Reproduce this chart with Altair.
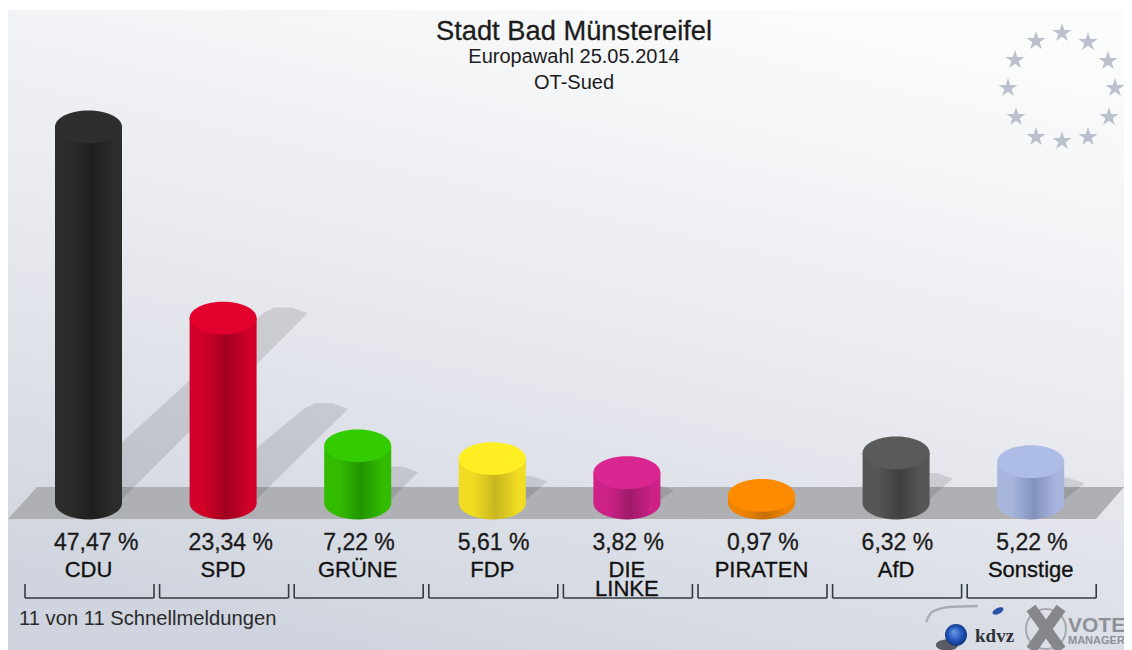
import altair as alt
import pandas as pd

# ---- values ----
parties = ["CDU", "SPD", "GRÜNE", "FDP", "DIE\nLINKE", "PIRATEN", "AfD", "Sonstige"]
shares = [47.47, 23.34, 7.22, 5.61, 3.82, 0.97, 6.32, 5.22]
share_labels = ["47,47 %", "23,34 %", "7,22 %", "5,61 %", "3,82 %", "0,97 %", "6,32 %", "5,22 %"]
cap_colors = ["#2e2e2e", "#e2002c", "#33cc00", "#ffee22", "#d92690", "#ff8c00", "#5a5a5a", "#aebde6"]
edge_colors = ["#2c2c2c", "#d00028", "#33bb00", "#f0dc22", "#cc2288", "#f08400", "#565656", "#a8b6de"]
mid_colors = ["#1f1f1f", "#a00020", "#229500", "#c8b51e", "#a01a6a", "#c87000", "#404040", "#8292ba"]
# cast shadows: height in share units above the floor, reach in slots from the bar's centre
shadow_height = [24.7, 12.6, 4.6, 3.4, 2.3, 0.8, 3.8, 3.2]
shadow_reach = [1.63, 0.93, 0.45, 0.41, 0.35, 0.25, 0.42, 0.40]

FONT = "Liberation Sans"
W, H = 1116, 642


def sx(px):
    return (px - 88.5) / 134.6


def vy(py):
    return (503 - py) / 7.92


def linear(x1, y1, x2, y2, stops):
    return alt.LinearGradient(gradient="linear", x1=x1, y1=y1, x2=x2, y2=y2,
                              stops=[alt.GradientStop(offset=o, color=c) for o, c in stops])


xs = alt.Scale(domain=[sx(8), sx(8 + W)], range=[0, W], nice=False, zero=False, padding=0)
ys = alt.Scale(domain=[vy(8 + H), vy(8)], range=[H, 0], nice=False, zero=False, padding=0)
X = alt.X("slot:Q", scale=xs, axis=None)
Y = alt.Y("v:Q", scale=ys, axis=None)

slots = list(range(len(parties)))
base = pd.DataFrame({"slot": slots, "v": shares, "zero": [0] * 8, "party": parties, "label": share_labels})

# background
bg = alt.Chart(pd.DataFrame({"a": [0]})).mark_rect(
    fill=linear(0.7, 0, 0.3, 1, [(0, "#fafbfb"), (0.5, "#e8eaef"), (1, "#cfd4de")])
).encode(x=alt.value(0), x2=alt.value(W), y=alt.value(2), y2=alt.value(H))

# floor
floor_df = pd.DataFrame({"v": [vy(519), vy(487)], "slot": [sx(8), sx(37)], "b": [sx(1096), sx(1124)]})
floor = alt.Chart(floor_df).mark_area(orient="horizontal", color="#aeb0b3", opacity=1, clip=False).encode(
    y=Y, x=alt.X("slot:Q", scale=xs, axis=None), x2="b:Q"
)

# shadows
rows = []
for i, (h, r) in enumerate(zip(shadow_height, shadow_reach)):
    rows += [
        dict(g=i, v=0, slot=i - 0.245, b=i + 0.22),
        dict(g=i, v=h - 0.7, slot=i + r - 0.33, b=i + r),
        dict(g=i, v=h, slot=i + r - 0.25, b=i + r - 0.12),
    ]
shadows = alt.Chart(pd.DataFrame(rows)).mark_area(orient="horizontal", color="#000000", opacity=0.11).encode(
    y=Y, x=alt.X("slot:Q", scale=xs, axis=None), x2="b:Q", detail="g:N"
)

# cylinders
ELLIPSE = "M-1,0 A1,0.49 0 1 1 1,0 A1,0.49 0 1 1 -1,0 Z"
LOWER = "M-1,-0.04 L1,-0.04 L1,0 A1,0.49 0 0 1 -1,0 Z"
SIZE = 67 ** 2
cyl = []
for i in slots:
    grad = linear(0, 0, 1, 0, [
        (0, edge_colors[i]), (0.22, edge_colors[i]), (0.55, mid_colors[i]),
        (0.88, edge_colors[i]), (1, edge_colors[i]),
    ])
    one = base.iloc[[i]]
    cyl.append(alt.Chart(one).mark_bar(orient="vertical", size=67, fill=grad, opacity=1).encode(x=X, y=Y, y2="zero:Q"))
    cyl.append(alt.Chart(one).mark_point(shape=LOWER, size=SIZE, filled=True, fill=grad, opacity=1, strokeWidth=0).encode(
        x=X, y=alt.Y("zero:Q", scale=ys, axis=None)))
    cyl.append(alt.Chart(one).mark_point(shape=ELLIPSE, size=SIZE, filled=True, fill=cap_colors[i], opacity=1, strokeWidth=0).encode(x=X, y=Y))

# labels under the bars
value_df = base.assign(ty=vy(549.5))
values = alt.Chart(value_df).mark_text(font=FONT, fontSize=23, color="#1a1a1a", baseline="alphabetic", align="left", dx=-34.5,
                                       stroke="#1a1a1a", strokeWidth=0.3).encode(
    x=X, y=alt.Y("ty:Q", scale=ys, axis=None), text="label:N")
name_df = base.assign(ty=vy(576.5))
names = alt.Chart(name_df).mark_text(font=FONT, fontSize=22, color="#111111", baseline="alphabetic", align="center",
                                     lineBreak="\n", lineHeight=19, stroke="#111111", strokeWidth=0.3).encode(
    x=X, y=alt.Y("ty:Q", scale=ys, axis=None), text="party:N")

# brackets
br = base.assign(t=vy(584), b=vy(598), c=[s + 1 / 134.6 for s in slots])
BC = alt.X("c:Q", scale=xs, axis=None)
br_h = alt.Chart(br).mark_tick(orient="horizontal", size=129, thickness=1.6, color="#333a40", opacity=1).encode(
    x=BC, y=alt.Y("b:Q", scale=ys, axis=None))
br_l = alt.Chart(br).mark_rule(xOffset=-64.5, strokeWidth=1.6, color="#333a40").encode(
    x=BC, y=alt.Y("t:Q", scale=ys, axis=None), y2="b:Q")
br_r = alt.Chart(br).mark_rule(xOffset=64.5, strokeWidth=1.6, color="#333a40").encode(
    x=BC, y=alt.Y("t:Q", scale=ys, axis=None), y2="b:Q")

# stars
STAR = ("M0,-1 L0.225,-0.309 L0.951,-0.309 L0.363,0.118 L0.588,0.809 L0,0.382 "
        "L-0.588,0.809 L-0.363,0.118 L-0.951,-0.309 L-0.225,-0.309 Z")
star_px = [1062, 1036, 1088, 1015, 1108, 1008, 1115, 1016, 1109, 1036, 1088, 1062]
star_py = [33, 41, 42, 60, 61, 88, 88, 117, 117, 137, 137, 141]
stars = alt.Chart(pd.DataFrame({"slot": [sx(p) for p in star_px], "v": [vy(p) for p in star_py]})).mark_point(
    shape=STAR, size=400, filled=True, fill="#bac1cc", opacity=1, strokeWidth=0).encode(x=X, y=Y)


def text(s, px, py, size, color="#1c1c1c", align="center", **kw):
    return alt.Chart(pd.DataFrame({"slot": [sx(px)], "v": [vy(py)], "s": [s]})).mark_text(
        color=color, align=align, baseline="alphabetic", fontSize=size, **{"font": FONT, **kw}
    ).encode(x=X, y=Y, text="s:N")


titles = [
    text("Stadt Bad Münstereifel", 574, 40, 27.3, stroke="#1c1c1c", strokeWidth=0.3),
    text("Europawahl 25.05.2014", 574, 63, 20),
    text("OT-Sued", 574, 89, 20),
    text("11 von 11 Schnellmeldungen", 19, 625, 20.2, color="#2a2a2a", align="left"),
]

# logos
swoosh = alt.Chart(pd.DataFrame({
    "slot": [sx(p) for p in [926, 932, 950, 978]],
    "v": [vy(p) for p in [622, 612, 607, 606]],
})).mark_line(color="#a9adb3", strokeWidth=2.5, interpolate="monotone").encode(x=X, y=Y)
shade = alt.Chart(pd.DataFrame({"slot": [sx(947)], "v": [vy(645)]})).mark_point(
    shape=ELLIPSE, size=500, filled=True, fill="#3a3a44", opacity=0.8, strokeWidth=0).encode(x=X, y=Y)
ball_fill = alt.RadialGradient(gradient="radial", x1=0.4, y1=0.35, x2=0.5, y2=0.5, r1=0, r2=0.55, stops=[
    alt.GradientStop(offset=0, color="#6f9be8"),
    alt.GradientStop(offset=0.6, color="#1f55b8"),
    alt.GradientStop(offset=1, color="#12306e"),
])
ball = alt.Chart(pd.DataFrame({"slot": [sx(956)], "v": [vy(635)]})).mark_point(
    shape="circle", size=484, filled=True, fill=ball_fill, opacity=1, strokeWidth=0).encode(x=X, y=Y)
dot = alt.Chart(pd.DataFrame({"slot": [sx(998)], "v": [vy(611)]})).mark_point(
    shape=ELLIPSE, size=140, angle=335, filled=True, fill="#2a52a8", opacity=1, strokeWidth=0).encode(x=X, y=Y)
ring = alt.Chart(pd.DataFrame({"slot": [sx(1046)], "v": [vy(629)]})).mark_point(
    shape="circle", size=1600, filled=False, stroke="#a5a8ad", strokeWidth=2, opacity=1).encode(x=X, y=Y)
x_df = pd.DataFrame({
    "slot": [sx(1031), sx(1061)], "b": [sx(1061), sx(1031)],
    "v": [vy(608), vy(608)], "e": [vy(650), vy(650)],
})
cross = alt.Chart(x_df).mark_rule(color="#85878b", strokeWidth=11).encode(x=X, x2="b:Q", y=Y, y2="e:Q")
logos = [
    swoosh, shade, ball, dot, ring, cross,
    text("kdvz", 975, 642, 19, color="#30323a", align="left", fontWeight="bold", font="Liberation Serif"),
    text("VOTE", 1068, 632, 21, color="#8d9098", align="left", fontWeight="bold"),
    text("MANAGER", 1068, 644, 11, color="#8d9098", align="left", fontWeight="bold"),
]

chart = alt.layer(
    bg, stars, floor, shadows, *cyl, values, names, br_h, br_l, br_r, *titles, *logos
).properties(
    width=W, height=H, padding=0, autosize=alt.AutoSizeParams(type="none"), background="white"
).configure_view(stroke=None)

chart.save("out.html", embed_options={"renderer": "svg", "actions": False})
